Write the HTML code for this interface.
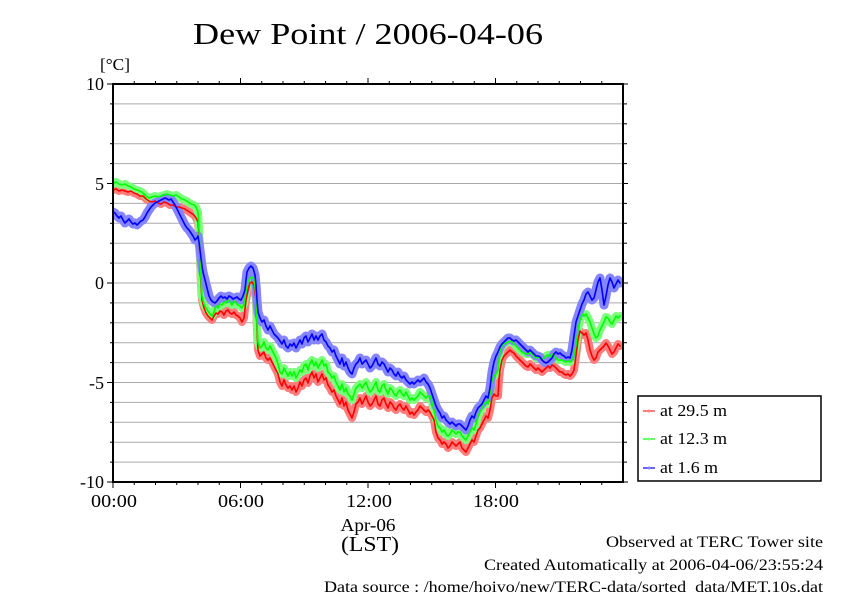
<!DOCTYPE html>
<html><head><meta charset="utf-8"><style>
html,body{margin:0;padding:0;background:#fff;}
svg{display:block;}
text{font-family:"Liberation Serif",serif;fill:#000;}
</style></head><body>
<svg width="842" height="595" viewBox="0 0 842 595" xmlns="http://www.w3.org/2000/svg">
<rect width="842" height="595" fill="#fff"/>
<text x="193" y="44" font-size="31" textLength="350" lengthAdjust="spacingAndGlyphs">Dew Point / 2006-04-06</text>
<text x="100" y="70" font-size="17" textLength="30" lengthAdjust="spacingAndGlyphs">[°C]</text>
<g stroke="#aaa" stroke-width="1">
<line x1="113" x2="623" y1="103.9" y2="103.9"/><line x1="113" x2="623" y1="123.8" y2="123.8"/><line x1="113" x2="623" y1="143.7" y2="143.7"/><line x1="113" x2="623" y1="163.6" y2="163.6"/><line x1="113" x2="623" y1="183.5" y2="183.5"/><line x1="113" x2="623" y1="203.4" y2="203.4"/><line x1="113" x2="623" y1="223.3" y2="223.3"/><line x1="113" x2="623" y1="243.2" y2="243.2"/><line x1="113" x2="623" y1="263.1" y2="263.1"/><line x1="113" x2="623" y1="283" y2="283"/><line x1="113" x2="623" y1="302.9" y2="302.9"/><line x1="113" x2="623" y1="322.8" y2="322.8"/><line x1="113" x2="623" y1="342.7" y2="342.7"/><line x1="113" x2="623" y1="362.6" y2="362.6"/><line x1="113" x2="623" y1="382.5" y2="382.5"/><line x1="113" x2="623" y1="402.4" y2="402.4"/><line x1="113" x2="623" y1="422.3" y2="422.3"/><line x1="113" x2="623" y1="442.2" y2="442.2"/><line x1="113" x2="623" y1="462.1" y2="462.1"/>
</g>
<defs><clipPath id="pc"><rect x="113" y="84" width="510" height="398"/></clipPath></defs>
<g clip-path="url(#pc)" fill="none" stroke-linejoin="round" stroke-linecap="round">
<polyline stroke="#ff7c7c" stroke-width="8" points="113,190 116,189 119,191 122,190 125,191 128,192 131,191 134,193 137,194 140,196 143,196 146,199 149,201 152,202 155,201 158,203 161,204 164,202 167,203 170,205 173,205 176,207 179,207 182,208 185,209 188,211 191,213 194,215 196,218 198,222 199,235 200,260 201,285 202,300 204,308 206,313 208,316 210,318 212,320 214,316 216,313 218,314 220,311 222,312 224,315 226,311 228,310 230,313 232,314 234,312 236,315 238,316 240,318 242,322 244,318 246,300 248,290 250,283 252,282 254,285 256,300 257,330 258,350 260,356 262,354 264,352 266,358 268,360 270,358 272,362 274,366 276,370 278,374 280,382 282,386 284,380 286,385 288,388 290,386 292,390 294,386 296,392 298,388 300,382 302,386 304,380 306,378 308,383 310,376 312,372 314,378 316,374 318,382 320,378 322,374 324,380 326,378 328,385 330,388 332,392 334,390 336,396 338,400 340,404 342,398 344,406 346,402 348,410 350,414 352,418 354,412 356,404 358,402 360,398 362,404 364,400 366,396 368,402 370,406 372,404 374,400 376,396 378,404 380,406 382,400 384,398 386,404 388,408 390,402 392,404 394,408 396,410 398,406 400,404 402,408 404,410 406,406 408,410 410,414 412,412 414,415 416,412 418,410 420,406 422,408 424,410 426,412 428,410 430,412 432,416 434,420 436,432 438,438 440,440 442,444 444,442 446,444 448,448 450,446 452,442 454,444 456,446 458,444 460,442 462,448 464,450 466,452 468,448 470,444 472,440 474,442 476,436 478,430 480,428 482,424 484,420 486,416 488,418 490,410 492,398 494,394 496,396 498,396 499,380 500,370 502,360 504,356 506,354 508,352 510,350 512,352 514,353 516,356 518,358 520,360 522,362 524,364 526,366 528,367 530,364 532,366 534,368 536,370 538,368 540,370 542,372 544,370 546,368 548,366 550,368 552,365 554,366 556,368 558,370 560,372 562,372 564,374 566,375 568,374 570,376 572,374 574,370 576,356 578,340 580,331 582,333 584,335 586,333 588,340 590,350 592,356 594,360 596,358 598,352 600,350 602,348 604,346 606,343 608,346 610,350 612,354 614,352 616,348 618,344 620,346"/>
<polyline stroke="#7cff7c" stroke-width="8" points="113,184 116,182 119,184 122,185 125,184 128,186 131,187 134,189 137,190 140,191 143,193 146,196 149,198 152,197 155,196 158,197 161,196 164,195 167,194 170,195 173,196 176,195 179,197 182,199 185,200 188,202 191,204 194,205 196,207 198,212 199,230 200,255 201,280 202,296 204,304 206,308 208,311 210,314 212,316 214,312 216,306 218,308 220,304 222,305 224,302 226,303 228,300 230,302 232,305 234,301 236,303 238,305 240,306 242,308 244,304 246,292 248,282 250,278 252,277 254,279 256,295 257,325 258,342 260,348 262,346 264,342 266,348 268,350 270,346 272,350 274,354 276,358 278,364 280,372 282,374 284,368 286,372 288,376 290,372 292,376 294,372 296,378 298,374 300,370 302,372 304,366 306,364 308,370 310,363 312,360 314,366 316,362 318,368 320,364 322,360 324,366 326,364 328,372 330,374 332,378 334,376 336,382 338,386 340,390 342,384 344,392 346,388 348,394 350,396 352,400 354,394 356,388 358,386 360,384 362,388 364,385 366,382 368,388 370,392 372,390 374,386 376,382 378,390 380,392 382,386 384,384 386,390 388,394 390,388 392,390 394,394 396,396 398,392 400,390 402,394 404,396 406,392 408,396 410,400 412,398 414,400 416,398 418,396 420,392 422,394 424,396 426,398 428,396 430,396 432,402 434,410 436,420 438,426 440,428 442,432 444,430 446,434 448,436 450,434 452,430 454,432 456,434 458,432 460,432 462,436 464,438 466,440 468,436 470,432 472,428 474,430 476,424 478,416 480,412 482,408 484,404 486,402 488,404 490,394 492,380 494,376 496,374 498,370 500,352 502,346 504,344 506,343 508,342 510,341 512,342 514,344 516,346 518,348 520,350 522,352 524,353 526,354 528,354 530,352 532,354 534,356 536,358 538,357 540,358 542,360 544,358 546,356 548,355 550,357 552,354 554,356 556,358 558,360 560,360 562,360 564,361 566,362 568,361 570,362 572,360 574,355 576,345 578,330 580,320 582,314 584,316 586,314 588,318 590,322 592,328 594,334 596,338 598,336 600,330 602,326 604,322 606,317 608,318 610,322 612,324 614,320 616,316 618,318 620,316"/>
<polyline stroke="#8585ff" stroke-width="9" points="113,212 115,213 117,216 119,218 121,216 123,220 125,223 127,221 129,219 131,222 133,224 135,223 137,225 139,223 141,221 143,220 145,217 147,213 149,210 151,207 153,205 155,203 157,202 159,201 161,200 163,199 165,198 167,199 169,200 171,199 173,202 175,205 177,209 179,213 181,217 183,221 185,225 187,228 189,230 191,233 193,236 195,240 197,238 198,236 199,242 200,250 201,258 202,266 203,272 205,280 207,288 209,296 211,300 213,302 215,303 217,301 219,298 221,296 223,298 225,297 227,299 229,296 231,297 233,299 235,298 237,297 239,299 241,300 243,296 245,290 246,280 247,272 249,268 251,266 253,268 255,275 256,285 257,300 258,312 260,318 262,322 264,320 266,326 268,330 270,326 272,330 274,334 276,336 278,338 280,341 282,344 284,340 286,346 288,348 290,344 292,346 294,343 296,348 298,344 300,340 302,344 304,338 306,336 308,342 310,338 312,334 314,340 316,336 318,340 320,336 322,334 324,340 326,342 328,346 330,348 332,352 334,350 336,356 338,360 340,364 342,358 344,366 346,362 348,368 350,372 352,374 354,368 356,364 358,362 360,358 362,364 364,362 366,360 368,364 370,368 372,366 374,362 376,358 378,364 380,366 382,362 384,364 386,368 388,372 390,368 392,370 394,374 396,376 398,372 400,376 402,378 404,376 406,380 408,382 410,384 412,382 414,384 416,382 418,380 420,382 422,380 424,378 426,382 428,384 430,388 432,394 434,400 436,406 438,410 440,413 442,418 444,416 446,420 448,422 450,424 452,422 454,424 456,426 458,424 460,424 462,426 464,428 466,430 468,426 470,420 472,416 474,418 476,412 478,408 480,406 482,404 484,400 486,396 488,398 490,388 492,372 494,362 496,356 498,352 500,347 502,344 504,342 506,340 508,338 510,338 512,340 514,341 516,340 518,342 520,344 522,346 524,348 526,350 528,352 530,350 532,352 534,354 536,356 538,356 540,357 542,360 544,362 546,363 548,362 550,360 552,358 554,354 556,352 558,354 560,353 562,355 564,356 566,358 568,357 570,358 572,350 574,336 576,322 578,316 580,310 582,304 584,300 586,294 588,292 590,296 592,300 594,298 596,290 598,282 600,278 602,290 604,305 606,296 608,285 610,278 612,282 614,288 616,284 618,280 620,283"/>
<polyline stroke="#ff0000" stroke-width="1.6" points="113,190 116,189 119,191 122,190 125,191 128,192 131,191 134,193 137,194 140,196 143,196 146,199 149,201 152,202 155,201 158,203 161,204 164,202 167,203 170,205 173,205 176,207 179,207 182,208 185,209 188,211 191,213 194,215 196,218 198,222 199,235 200,260 201,285 202,300 204,308 206,313 208,316 210,318 212,320 214,316 216,313 218,314 220,311 222,312 224,315 226,311 228,310 230,313 232,314 234,312 236,315 238,316 240,318 242,322 244,318 246,300 248,290 250,283 252,282 254,285 256,300 257,330 258,350 260,356 262,354 264,352 266,358 268,360 270,358 272,362 274,366 276,370 278,374 280,382 282,386 284,380 286,385 288,388 290,386 292,390 294,386 296,392 298,388 300,382 302,386 304,380 306,378 308,383 310,376 312,372 314,378 316,374 318,382 320,378 322,374 324,380 326,378 328,385 330,388 332,392 334,390 336,396 338,400 340,404 342,398 344,406 346,402 348,410 350,414 352,418 354,412 356,404 358,402 360,398 362,404 364,400 366,396 368,402 370,406 372,404 374,400 376,396 378,404 380,406 382,400 384,398 386,404 388,408 390,402 392,404 394,408 396,410 398,406 400,404 402,408 404,410 406,406 408,410 410,414 412,412 414,415 416,412 418,410 420,406 422,408 424,410 426,412 428,410 430,412 432,416 434,420 436,432 438,438 440,440 442,444 444,442 446,444 448,448 450,446 452,442 454,444 456,446 458,444 460,442 462,448 464,450 466,452 468,448 470,444 472,440 474,442 476,436 478,430 480,428 482,424 484,420 486,416 488,418 490,410 492,398 494,394 496,396 498,396 499,380 500,370 502,360 504,356 506,354 508,352 510,350 512,352 514,353 516,356 518,358 520,360 522,362 524,364 526,366 528,367 530,364 532,366 534,368 536,370 538,368 540,370 542,372 544,370 546,368 548,366 550,368 552,365 554,366 556,368 558,370 560,372 562,372 564,374 566,375 568,374 570,376 572,374 574,370 576,356 578,340 580,331 582,333 584,335 586,333 588,340 590,350 592,356 594,360 596,358 598,352 600,350 602,348 604,346 606,343 608,346 610,350 612,354 614,352 616,348 618,344 620,346"/>
<polyline stroke="#00ff00" stroke-width="1.6" points="113,184 116,182 119,184 122,185 125,184 128,186 131,187 134,189 137,190 140,191 143,193 146,196 149,198 152,197 155,196 158,197 161,196 164,195 167,194 170,195 173,196 176,195 179,197 182,199 185,200 188,202 191,204 194,205 196,207 198,212 199,230 200,255 201,280 202,296 204,304 206,308 208,311 210,314 212,316 214,312 216,306 218,308 220,304 222,305 224,302 226,303 228,300 230,302 232,305 234,301 236,303 238,305 240,306 242,308 244,304 246,292 248,282 250,278 252,277 254,279 256,295 257,325 258,342 260,348 262,346 264,342 266,348 268,350 270,346 272,350 274,354 276,358 278,364 280,372 282,374 284,368 286,372 288,376 290,372 292,376 294,372 296,378 298,374 300,370 302,372 304,366 306,364 308,370 310,363 312,360 314,366 316,362 318,368 320,364 322,360 324,366 326,364 328,372 330,374 332,378 334,376 336,382 338,386 340,390 342,384 344,392 346,388 348,394 350,396 352,400 354,394 356,388 358,386 360,384 362,388 364,385 366,382 368,388 370,392 372,390 374,386 376,382 378,390 380,392 382,386 384,384 386,390 388,394 390,388 392,390 394,394 396,396 398,392 400,390 402,394 404,396 406,392 408,396 410,400 412,398 414,400 416,398 418,396 420,392 422,394 424,396 426,398 428,396 430,396 432,402 434,410 436,420 438,426 440,428 442,432 444,430 446,434 448,436 450,434 452,430 454,432 456,434 458,432 460,432 462,436 464,438 466,440 468,436 470,432 472,428 474,430 476,424 478,416 480,412 482,408 484,404 486,402 488,404 490,394 492,380 494,376 496,374 498,370 500,352 502,346 504,344 506,343 508,342 510,341 512,342 514,344 516,346 518,348 520,350 522,352 524,353 526,354 528,354 530,352 532,354 534,356 536,358 538,357 540,358 542,360 544,358 546,356 548,355 550,357 552,354 554,356 556,358 558,360 560,360 562,360 564,361 566,362 568,361 570,362 572,360 574,355 576,345 578,330 580,320 582,314 584,316 586,314 588,318 590,322 592,328 594,334 596,338 598,336 600,330 602,326 604,322 606,317 608,318 610,322 612,324 614,320 616,316 618,318 620,316"/>
<polyline stroke="#0000ff" stroke-width="1.6" points="113,212 115,213 117,216 119,218 121,216 123,220 125,223 127,221 129,219 131,222 133,224 135,223 137,225 139,223 141,221 143,220 145,217 147,213 149,210 151,207 153,205 155,203 157,202 159,201 161,200 163,199 165,198 167,199 169,200 171,199 173,202 175,205 177,209 179,213 181,217 183,221 185,225 187,228 189,230 191,233 193,236 195,240 197,238 198,236 199,242 200,250 201,258 202,266 203,272 205,280 207,288 209,296 211,300 213,302 215,303 217,301 219,298 221,296 223,298 225,297 227,299 229,296 231,297 233,299 235,298 237,297 239,299 241,300 243,296 245,290 246,280 247,272 249,268 251,266 253,268 255,275 256,285 257,300 258,312 260,318 262,322 264,320 266,326 268,330 270,326 272,330 274,334 276,336 278,338 280,341 282,344 284,340 286,346 288,348 290,344 292,346 294,343 296,348 298,344 300,340 302,344 304,338 306,336 308,342 310,338 312,334 314,340 316,336 318,340 320,336 322,334 324,340 326,342 328,346 330,348 332,352 334,350 336,356 338,360 340,364 342,358 344,366 346,362 348,368 350,372 352,374 354,368 356,364 358,362 360,358 362,364 364,362 366,360 368,364 370,368 372,366 374,362 376,358 378,364 380,366 382,362 384,364 386,368 388,372 390,368 392,370 394,374 396,376 398,372 400,376 402,378 404,376 406,380 408,382 410,384 412,382 414,384 416,382 418,380 420,382 422,380 424,378 426,382 428,384 430,388 432,394 434,400 436,406 438,410 440,413 442,418 444,416 446,420 448,422 450,424 452,422 454,424 456,426 458,424 460,424 462,426 464,428 466,430 468,426 470,420 472,416 474,418 476,412 478,408 480,406 482,404 484,400 486,396 488,398 490,388 492,372 494,362 496,356 498,352 500,347 502,344 504,342 506,340 508,338 510,338 512,340 514,341 516,340 518,342 520,344 522,346 524,348 526,350 528,352 530,350 532,352 534,354 536,356 538,356 540,357 542,360 544,362 546,363 548,362 550,360 552,358 554,354 556,352 558,354 560,353 562,355 564,356 566,358 568,357 570,358 572,350 574,336 576,322 578,316 580,310 582,304 584,300 586,294 588,292 590,296 592,300 594,298 596,290 598,282 600,278 602,290 604,305 606,296 608,285 610,278 612,282 614,288 616,284 618,280 620,283"/>
</g>
<rect x="113" y="84" width="510" height="398" fill="none" stroke="#000" stroke-width="2"/>
<g stroke="#000" stroke-width="1">
<line x1="107" x2="113" y1="84" y2="84"/><line x1="110" x2="113" y1="103.9" y2="103.9"/><line x1="110" x2="113" y1="123.8" y2="123.8"/><line x1="110" x2="113" y1="143.7" y2="143.7"/><line x1="110" x2="113" y1="163.6" y2="163.6"/><line x1="107" x2="113" y1="183.5" y2="183.5"/><line x1="110" x2="113" y1="203.4" y2="203.4"/><line x1="110" x2="113" y1="223.3" y2="223.3"/><line x1="110" x2="113" y1="243.2" y2="243.2"/><line x1="110" x2="113" y1="263.1" y2="263.1"/><line x1="107" x2="113" y1="283" y2="283"/><line x1="110" x2="113" y1="302.9" y2="302.9"/><line x1="110" x2="113" y1="322.8" y2="322.8"/><line x1="110" x2="113" y1="342.7" y2="342.7"/><line x1="110" x2="113" y1="362.6" y2="362.6"/><line x1="107" x2="113" y1="382.5" y2="382.5"/><line x1="110" x2="113" y1="402.4" y2="402.4"/><line x1="110" x2="113" y1="422.3" y2="422.3"/><line x1="110" x2="113" y1="442.2" y2="442.2"/><line x1="110" x2="113" y1="462.1" y2="462.1"/><line x1="107" x2="113" y1="482" y2="482"/>
<line x1="623" x2="628" y1="84" y2="84"/><line x1="623" x2="627" y1="103.9" y2="103.9"/><line x1="623" x2="627" y1="123.8" y2="123.8"/><line x1="623" x2="627" y1="143.7" y2="143.7"/><line x1="623" x2="627" y1="163.6" y2="163.6"/><line x1="623" x2="628" y1="183.5" y2="183.5"/><line x1="623" x2="627" y1="203.4" y2="203.4"/><line x1="623" x2="627" y1="223.3" y2="223.3"/><line x1="623" x2="627" y1="243.2" y2="243.2"/><line x1="623" x2="627" y1="263.1" y2="263.1"/><line x1="623" x2="628" y1="283" y2="283"/><line x1="623" x2="627" y1="302.9" y2="302.9"/><line x1="623" x2="627" y1="322.8" y2="322.8"/><line x1="623" x2="627" y1="342.7" y2="342.7"/><line x1="623" x2="627" y1="362.6" y2="362.6"/><line x1="623" x2="628" y1="382.5" y2="382.5"/><line x1="623" x2="627" y1="402.4" y2="402.4"/><line x1="623" x2="627" y1="422.3" y2="422.3"/><line x1="623" x2="627" y1="442.2" y2="442.2"/><line x1="623" x2="627" y1="462.1" y2="462.1"/><line x1="623" x2="628" y1="482" y2="482"/>
<line x1="134.25" x2="134.25" y1="81" y2="84"/><line x1="155.5" x2="155.5" y1="81" y2="84"/><line x1="176.75" x2="176.75" y1="81" y2="84"/><line x1="198" x2="198" y1="81" y2="84"/><line x1="219.25" x2="219.25" y1="81" y2="84"/><line x1="240.5" x2="240.5" y1="78" y2="84"/><line x1="261.75" x2="261.75" y1="81" y2="84"/><line x1="283" x2="283" y1="81" y2="84"/><line x1="304.25" x2="304.25" y1="81" y2="84"/><line x1="325.5" x2="325.5" y1="81" y2="84"/><line x1="346.75" x2="346.75" y1="81" y2="84"/><line x1="368" x2="368" y1="78" y2="84"/><line x1="389.25" x2="389.25" y1="81" y2="84"/><line x1="410.5" x2="410.5" y1="81" y2="84"/><line x1="431.75" x2="431.75" y1="81" y2="84"/><line x1="453" x2="453" y1="81" y2="84"/><line x1="474.25" x2="474.25" y1="81" y2="84"/><line x1="495.5" x2="495.5" y1="78" y2="84"/><line x1="516.75" x2="516.75" y1="81" y2="84"/><line x1="538" x2="538" y1="81" y2="84"/><line x1="559.25" x2="559.25" y1="81" y2="84"/><line x1="580.5" x2="580.5" y1="81" y2="84"/><line x1="601.75" x2="601.75" y1="81" y2="84"/>
<line x1="113" x2="113" y1="482" y2="488"/><line x1="134.25" x2="134.25" y1="482" y2="485"/><line x1="155.5" x2="155.5" y1="482" y2="485"/><line x1="176.75" x2="176.75" y1="482" y2="485"/><line x1="198" x2="198" y1="482" y2="485"/><line x1="219.25" x2="219.25" y1="482" y2="485"/><line x1="240.5" x2="240.5" y1="482" y2="488"/><line x1="261.75" x2="261.75" y1="482" y2="485"/><line x1="283" x2="283" y1="482" y2="485"/><line x1="304.25" x2="304.25" y1="482" y2="485"/><line x1="325.5" x2="325.5" y1="482" y2="485"/><line x1="346.75" x2="346.75" y1="482" y2="485"/><line x1="368" x2="368" y1="482" y2="488"/><line x1="389.25" x2="389.25" y1="482" y2="485"/><line x1="410.5" x2="410.5" y1="482" y2="485"/><line x1="431.75" x2="431.75" y1="482" y2="485"/><line x1="453" x2="453" y1="482" y2="485"/><line x1="474.25" x2="474.25" y1="482" y2="485"/><line x1="495.5" x2="495.5" y1="482" y2="488"/><line x1="516.75" x2="516.75" y1="482" y2="485"/><line x1="538" x2="538" y1="482" y2="485"/><line x1="559.25" x2="559.25" y1="482" y2="485"/><line x1="580.5" x2="580.5" y1="482" y2="485"/><line x1="601.75" x2="601.75" y1="482" y2="485"/>
</g>
<g font-size="18" text-anchor="end">
<text x="104" y="90">10</text>
<text x="104" y="190">5</text>
<text x="104" y="289">0</text>
<text x="104" y="389">-5</text>
<text x="104" y="488">-10</text>
</g>
<g font-size="18" text-anchor="middle">
<text x="114" y="507" textLength="46" lengthAdjust="spacingAndGlyphs">00:00</text>
<text x="241" y="507" textLength="46" lengthAdjust="spacingAndGlyphs">06:00</text>
<text x="369" y="507" textLength="46" lengthAdjust="spacingAndGlyphs">12:00</text>
<text x="496" y="507" textLength="46" lengthAdjust="spacingAndGlyphs">18:00</text>
<text x="368" y="531" textLength="55" lengthAdjust="spacingAndGlyphs">Apr-06</text>
<text x="370" y="551" font-size="21" textLength="58" lengthAdjust="spacingAndGlyphs">(LST)</text>
</g>
<rect x="638" y="396" width="183" height="85" fill="#fff" stroke="#000" stroke-width="1.5"/>
<g stroke-width="1.5">
<line x1="643" x2="655" y1="411" y2="411" stroke="#ff5050"/><circle cx="649" cy="411" r="1.5" fill="#ff8080"/>
<line x1="643" x2="655" y1="439" y2="439" stroke="#30ff30"/><circle cx="649" cy="439" r="1.5" fill="#80ff80"/>
<line x1="643" x2="655" y1="468" y2="468" stroke="#3030ff"/><circle cx="649" cy="468" r="1.5" fill="#8080ff"/>
</g>
<g font-size="17">
<text x="660" y="416" textLength="67" lengthAdjust="spacingAndGlyphs">at 29.5 m</text>
<text x="660" y="444" textLength="67" lengthAdjust="spacingAndGlyphs">at 12.3 m</text>
<text x="660" y="473" textLength="58" lengthAdjust="spacingAndGlyphs">at 1.6 m</text>
</g>
<g font-size="16" text-anchor="end">
<text x="823" y="547" textLength="217" lengthAdjust="spacingAndGlyphs">Observed at TERC Tower site</text>
<text x="823" y="570" textLength="339" lengthAdjust="spacingAndGlyphs">Created Automatically at 2006-04-06/23:55:24</text>
<text x="823" y="592" textLength="499" lengthAdjust="spacingAndGlyphs" xml:space="preserve">Data source : /home/hoivo/new/TERC-data/sorted  data/MET.10s.dat</text>
</g>
</svg>
</body></html>
